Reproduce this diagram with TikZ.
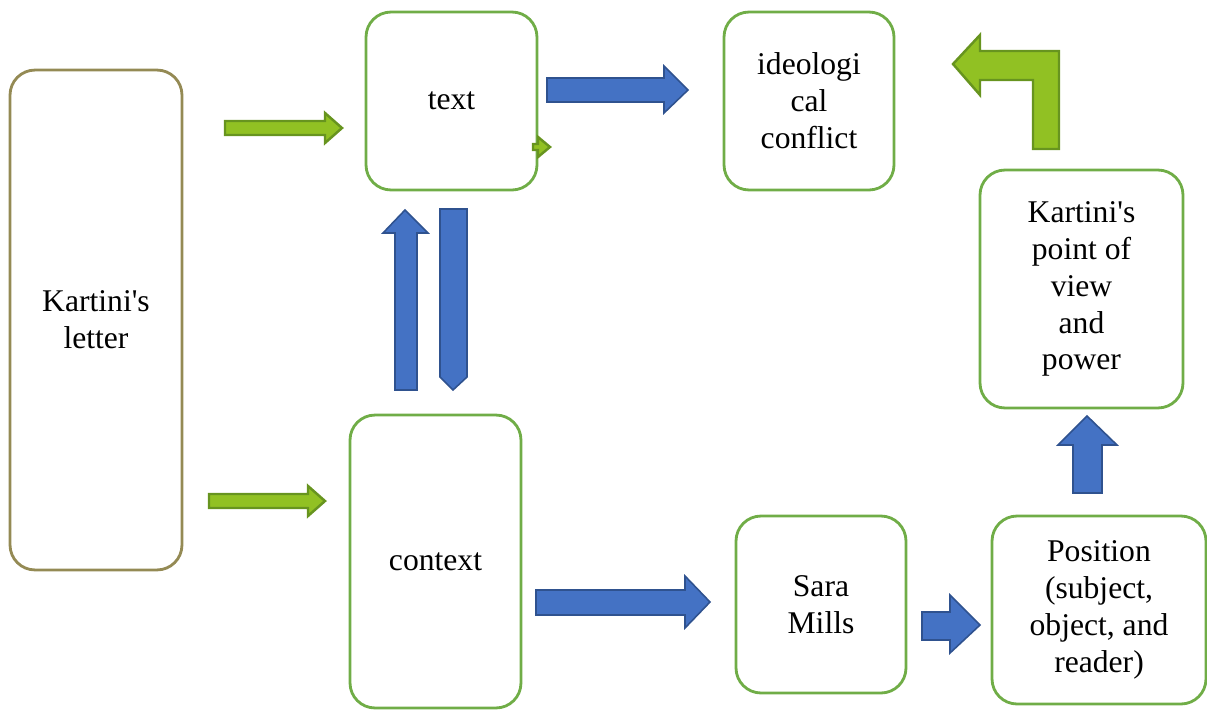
\documentclass[tikz,border=0pt]{standalone}
\usepackage{fontspec}
\setmainfont{Liberation Serif}
\usepackage{tikz}

\definecolor{boxgreen}{RGB}{112,173,71}
\definecolor{boxolive}{RGB}{148,138,84}
\definecolor{arrowblue}{RGB}{68,114,196}
\definecolor{arrowblueline}{RGB}{47,82,143}
\definecolor{arrowgreen}{RGB}{145,193,35}
\definecolor{arrowgreenline}{RGB}{103,148,31}

\begin{document}
\begin{tikzpicture}[x=0.02cm, y=-0.02cm,
	    box/.style={draw=boxgreen, line width=1.6pt, rounded corners=0.5cm, align=center,
	      font=\fontsize{18}{21}\selectfont, inner sep=0pt},
	    bluearrow/.style={fill=arrowblue, draw=arrowblueline, line width=0.9pt, line join=miter},
	    greenarrow/.style={fill=arrowgreen, draw=arrowgreenline, line width=1.4pt, line join=miter}]
	    \useasboundingbox (0,0) rectangle (1207,711);
	    % boxes
	    \node[box, draw=boxolive, minimum width=3.44cm, minimum height=10cm] (letter) at (96,320) {Kartini\textquotesingle s\\letter};
	    \node[box, minimum width=3.42cm, minimum height=3.56cm] (text) at (451.5,101) {text};
	    \node[box, minimum width=3.42cm, minimum height=5.86cm] (context) at (435.5,561.5) {context};
	    \node[box, minimum width=3.4cm, minimum height=3.56cm] (conflict) at (809,101) {ideologi\\cal\\conflict};
	    \node[box, minimum width=4.06cm, minimum height=4.76cm] (view) at (1081.5,289) {Kartini\textquotesingle s\\point of\\view\\and\\power};
	    \node[box, minimum width=3.4cm, minimum height=3.54cm] (mills) at (821,604.5) {Sara\\Mills};
	    \node[box, minimum width=4.28cm, minimum height=3.76cm] (position) at (1099,610) {Position\\(subject,\\object, and\\reader)};
	    % green arrows
	    \draw[greenarrow] (225,121) -- (325,121) -- (325,113) -- (342,128) -- (325,143) -- (325,135) -- (225,135) -- cycle;
	    \draw[greenarrow] (209,494) -- (308,494) -- (308,486) -- (325,501) -- (308,516) -- (308,508) -- (209,508) -- cycle;
	    \draw[greenarrow] (533,144) -- (538,144) -- (538,137) -- (550,147) -- (538,157) -- (538,150) -- (533,150) -- cycle;
	    \draw[greenarrow] (1033,149) -- (1033,80) -- (980,80) -- (980,95) -- (953,64) -- (980,35) -- (980,51) -- (1059,51) -- (1059,149) -- cycle;
	    % blue arrows
	    \draw[bluearrow] (547,78) -- (664,78) -- (664,66) -- (688,90) -- (664,113) -- (664,102) -- (547,102) -- cycle;
	    \draw[bluearrow] (395,390) -- (395,233) -- (383,233) -- (405,210) -- (428,233) -- (417,233) -- (417,390) -- cycle;
	    \draw[bluearrow] (440,209) -- (467,209) -- (467,377) -- (453,390) -- (440,377) -- cycle;
	    \draw[bluearrow] (536,590) -- (685,590) -- (685,576) -- (710,602) -- (685,628) -- (685,615) -- (536,615) -- cycle;
	    \draw[bluearrow] (922,612) -- (950,612) -- (950,595) -- (980,625) -- (950,653) -- (950,640) -- (922,640) -- cycle;
	    \draw[bluearrow] (1073,493) -- (1073,445) -- (1058,445) -- (1087,416) -- (1117,445) -- (1102,445) -- (1102,493) -- cycle;
	  \end{tikzpicture}
\end{document}
